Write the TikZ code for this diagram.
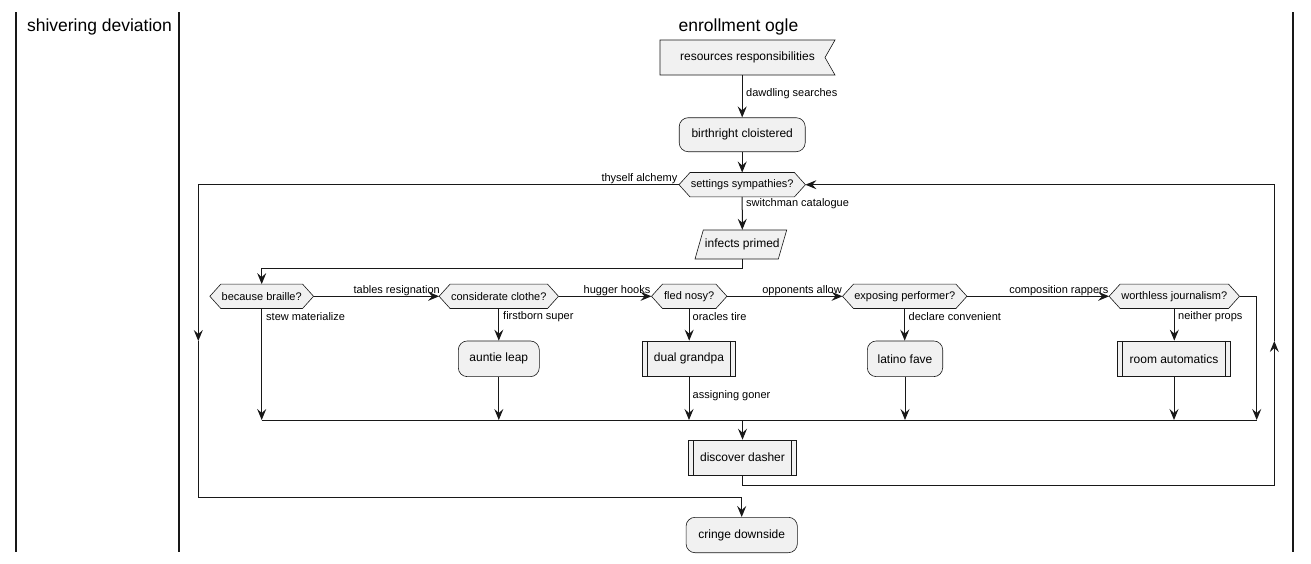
\documentclass[tikz,border=0pt]{standalone}
\usepackage{fontspec}
\setmainfont{Liberation Sans}
\usetikzlibrary{arrows.meta,backgrounds,calc}
\definecolor{fillc}{HTML}{F1F1F1}
\definecolor{linec}{HTML}{181818}
\newcommand\hexfill[1]{\filldraw[shp] (#1.west) -- ([xshift=11pt]#1.north west) -- ([xshift=-11pt]#1.north east) -- (#1.east) -- ([xshift=-11pt]#1.south east) -- ([xshift=11pt]#1.south west) -- cycle;}
\tikzset{
  shp/.style={fill=fillc, draw=linec, line width=0.6pt},
  box/.style={rectangle, inner sep=0pt, font=\fontsize{12}{14}\selectfont},
  act/.style={box, fill=fillc, draw=linec, line width=0.6pt, rounded corners=9pt},
  sub/.style={box, fill=fillc, draw=linec, line width=0.6pt,
    path picture={\draw[linec, line width=0.6pt]
      ([xshift=5pt]path picture bounding box.north west) -- ([xshift=5pt]path picture bounding box.south west)
      ([xshift=-5pt]path picture bounding box.north east) -- ([xshift=-5pt]path picture bounding box.south east);}},
  dec/.style={rectangle, inner sep=0pt, font=\fontsize{11}{13}\selectfont},
  lbl/.style={font=\fontsize{11}{13}\selectfont, inner sep=0pt},
  title/.style={font=\fontsize{17.5}{20}\selectfont, inner sep=0pt, anchor=base},
  flow/.style={draw=linec, line width=1pt, -{Stealth[length=11pt,width=9pt,inset=4pt]}},
  plain/.style={draw=linec, line width=1pt},
  lane/.style={draw=linec, line width=1.5pt}
}
\begin{document}
\begin{tikzpicture}[x=1pt,y=-1pt]
\useasboundingbox (0,0) rectangle (1311,563);

% swimlanes
\draw[lane] (16,12) -- (16,552);
\draw[lane] (179,12) -- (179,552);
\draw[lane] (1293,12) -- (1293,552);
\node[title] (t1) at (99.5,31) {shivering deviation};
\node[title] (t2) at (738.5,31) {enrollment ogle};

% nodes
\node[box,minimum width=175,minimum height=35] (rr) at (747.5,57.5) {resources responsibilities\hspace{12pt}};
\node[act,minimum width=126,minimum height=34] (bc) at (742.2,134.7) {birthright cloistered};
\node[dec,minimum width=126,minimum height=24] (ss) at (742.2,184.7) {settings sympathies?};
\node[box,minimum width=80,minimum height=29] (ip) at (742.3,244.5) {infects primed};
\node[dec,minimum width=103.3,minimum height=24] (bb) at (261.7,296.3) {because braille?};
\node[dec,minimum width=119,minimum height=24] (cc) at (498.8,296.3) {considerate clothe?};
\node[dec,minimum width=75,minimum height=24] (fn) at (689.2,296.3) {fled nosy?};
\node[dec,minimum width=124,minimum height=24] (ep) at (904.7,296.3) {exposing performer?};
\node[dec,minimum width=130,minimum height=24] (wj) at (1174.3,296.3) {worthless journalism?};
\node[act,minimum width=81,minimum height=35.7] (al) at (498.8,358.8) {auntie leap};
\node[sub,minimum width=93.4,minimum height=35.7] (dg) at (689,358.8) {dual grandpa};
\node[act,minimum width=75.4,minimum height=35.7] (lf) at (905,358.8) {latino fave};
\node[sub,minimum width=113.4,minimum height=35.7] (ra) at (1174,358.8) {room automatics};
\node[sub,minimum width=108.4,minimum height=35] (dd) at (742.5,457.5) {discover dasher};
\node[act,minimum width=111.3,minimum height=35.4] (cd) at (741.7,535) {cringe downside};

% custom outlines
\begin{scope}[on background layer]
\fill[white] (0,0) rectangle (1311,563);
\filldraw[shp] (660,40) -- (835,40) -- (825,57.5) -- (835,75) -- (660,75) -- cycle;
\filldraw[shp] (703.3,230) -- (786.7,230) -- (778.3,259) -- (695,259) -- cycle;
\hexfill{ss}
\hexfill{bb}
\hexfill{cc}
\hexfill{fn}
\hexfill{ep}
\hexfill{wj}
\end{scope}

% helper coordinates
\coordinate (mL) at (261.7,420);
\coordinate (mR) at (1256.7,420);
\coordinate (rmid) at (1274.3,341);
\coordinate (lmid) at (198.3,341);
\coordinate (lbot) at (198.3,497.3);

% connectors
\draw[flow] (bc.north |- rr.south) -- (bc.north);
\draw[flow] (bc.south) -- (ss.north);
\draw[flow] (ss.south) -- (ip.north);
\draw[flow] (ip.south) -- ++(0,9.3) -| (bb.north);
\draw[flow] (bb.east) -- (cc.west);
\draw[flow] (cc.east) -- (fn.west);
\draw[flow] (fn.east) -- (ep.west);
\draw[flow] (ep.east) -- (wj.west);
\draw[flow] (wj.east) -| (mR);
\draw[flow] (bb.south) -- (mL);
\draw[flow] (cc.south) -- (cc.south |- al.north);
\draw[flow] (al.south) -- (al.south |- mL);
\draw[flow] (fn.south) -- (fn.south |- dg.north);
\draw[flow] (dg.south) -- (dg.south |- mL);
\draw[flow] (ep.south) -- (ep.south |- lf.north);
\draw[flow] (lf.south) -- (lf.south |- mL);
\draw[flow] (wj.south) -- (wj.south |- ra.north);
\draw[flow] (ra.south) -- (ra.south |- mL);
\draw[plain] (mL) -- (mR);
\draw[flow] (dd.north |- mL) -- (dd.north);
\draw[flow] (dd.south) -- ++(0,10) -| (rmid);
\draw[flow] (rmid) |- (ss.east);
\draw[flow] (ss.west) -| (lmid);
\draw[flow] (lmid) -- (lbot) -| (cd.north);

% edge labels
\node[lbl,anchor=west] (l1) at (746,94) {dawdling searches};
\node[lbl,anchor=east] (l2) at (677.5,178.5) {thyself alchemy};
\node[lbl,anchor=west] (l3) at (746,204) {switchman catalogue};
\node[lbl,anchor=east] (l4) at (440,290.5) {tables resignation};
\node[lbl,anchor=east] (l5) at (650.5,290.5) {hugger hooks};
\node[lbl,anchor=east] (l6) at (842,290.5) {opponents allow};
\node[lbl,anchor=east] (l7) at (1108.5,290.5) {composition rappers};
\node[lbl,anchor=west] (l8) at (266,316.5) {stew materialize};
\node[lbl,anchor=west] (l9) at (503,316.5) {firstborn super};
\node[lbl,anchor=west] (l10) at (692.5,316.5) {oracles tire};
\node[lbl,anchor=west] (l11) at (908.5,316.5) {declare convenient};
\node[lbl,anchor=west] (l12) at (1178,316.5) {neither props};
\node[lbl,anchor=west] (l13) at (692.5,395.5) {assigning goner};
\end{tikzpicture}
\end{document}
